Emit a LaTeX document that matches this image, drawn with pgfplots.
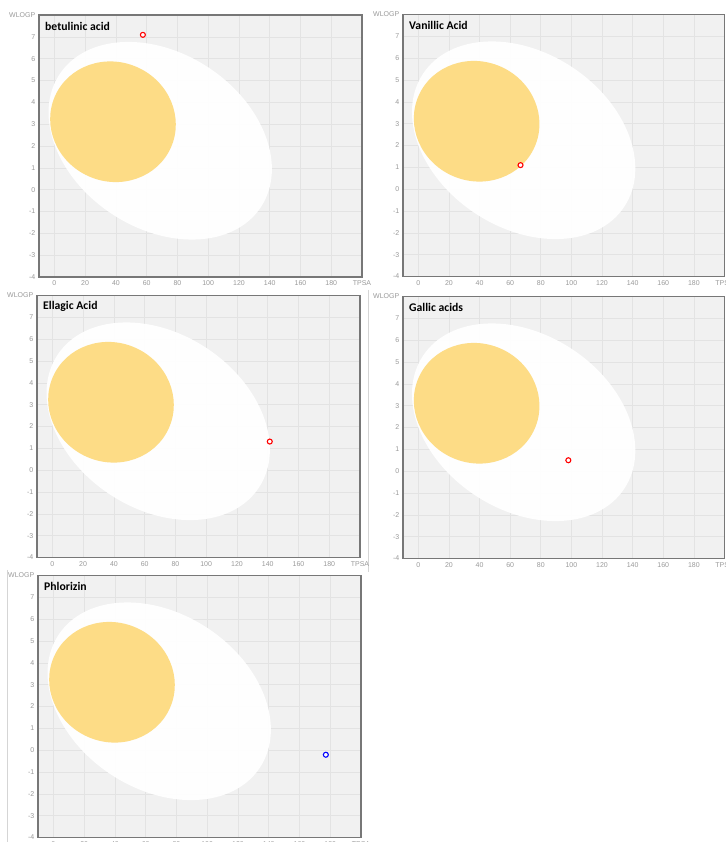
\documentclass[border=0pt]{standalone}
\usepackage{fontspec}
\setmainfont{Liberation Sans}
\newfontfamily\carlito{Carlito}
\usepackage{pgfplots}
\pgfplotsset{compat=1.18}
\definecolor{bggray}{HTML}{F1F1F1}
\definecolor{gridgray}{HTML}{E3E3E3}
\definecolor{framegray}{HTML}{777777}
\definecolor{tickgray}{HTML}{999999}
\definecolor{yolk}{HTML}{FDDC86}
\definecolor{sepgray}{HTML}{D5D5D5}
\tikzset{
 eggtitle/.style={anchor=west, inner sep=0pt, xshift=6pt, yshift=-11pt, font=\carlito\bfseries\fontsize{11.7}{13}\selectfont, text=black},
}
\pgfplotsset{
 eggaxis/.style={
  scale only axis, height=262pt,
  anchor=south west,
  xmin=-10, xmax=200, ymin=-4, ymax=8,
  xtick={0,20,...,200}, ytick={-4,-3,...,8},
  xticklabels={0,20,40,60,80,100,120,140,160,180,TPSA},
  yticklabels={-4,-3,-2,-1,0,1,2,3,4,5,6,7,WLOGP},
  grid=major, major grid style={gridgray, line width=0.6pt},
  axis background/.style={fill=bggray},
  axis line style={framegray, line width=1.6pt},
  major tick length=0pt,
  tick style={draw=none},
  ticklabel style={font=\fontsize{7}{8}\selectfont, text=tickgray, inner sep=0pt},
  xticklabel shift=3.5pt, yticklabel shift=3.5pt,
 },
 redpt/.style={only marks, mark=*, mark size=2.5pt, mark options={draw=red, fill=white, line width=1.1pt}},
 bluept/.style={only marks, mark=*, mark size=2.5pt, mark options={draw=blue, fill=white, line width=1.1pt}},
}
\newcommand\egg{%
 \fill[white, fill opacity=0.95, rotate around={-33.4:(axis cs:68.8,2.24)}] (axis cs:68.8,2.24) ellipse [x radius=120.6pt, y radius=87.7pt];
 \fill[yolk, rotate around={-23.9:(axis cs:38.1,3.11)}] (axis cs:38.1,3.11) ellipse [x radius=63.4pt, y radius=59.7pt];
}
\begin{document}
\begin{tikzpicture}
\draw[sepgray, line width=0.8pt] (368pt,552pt) -- (368pt,270pt);
\draw[sepgray, line width=0.8pt] (7.5pt,272pt) -- (7.5pt,0pt);

\begin{axis}[eggaxis, width=323pt, at={(39pt,565pt)}]
\egg
\addplot[redpt] coordinates {(57.53,7.09)};
\node[eggtitle] at (rel axis cs:0,1) {betulinic acid};
\end{axis}

\begin{axis}[eggaxis, width=321.5pt, at={(403pt,565.5pt)}]
\egg
\addplot[redpt] coordinates {(66.76,1.10)};
\node[eggtitle] at (rel axis cs:0,1) {Vanillic Acid};
\end{axis}

\begin{axis}[eggaxis, width=323pt, at={(37pt,284.5pt)}]
\egg
\addplot[redpt] coordinates {(141.34,1.31)};
\node[eggtitle] at (rel axis cs:0,1) {Ellagic Acid};
\end{axis}

\begin{axis}[eggaxis, width=321.5pt, at={(403pt,283.5pt)}]
\egg
\addplot[redpt] coordinates {(97.99,0.50)};
\node[eggtitle] at (rel axis cs:0,1) {Gallic acids};
\end{axis}

\begin{axis}[eggaxis, width=323pt, at={(38pt,4.5pt)}]
\egg
\addplot[bluept] coordinates {(177.14,-0.21)};
\node[eggtitle] at (rel axis cs:0,1) {Phlorizin};
\end{axis}
\pgfresetboundingbox
\path[use as bounding box] (0pt,0pt) rectangle (725pt,842pt);
\end{tikzpicture}
\end{document}
